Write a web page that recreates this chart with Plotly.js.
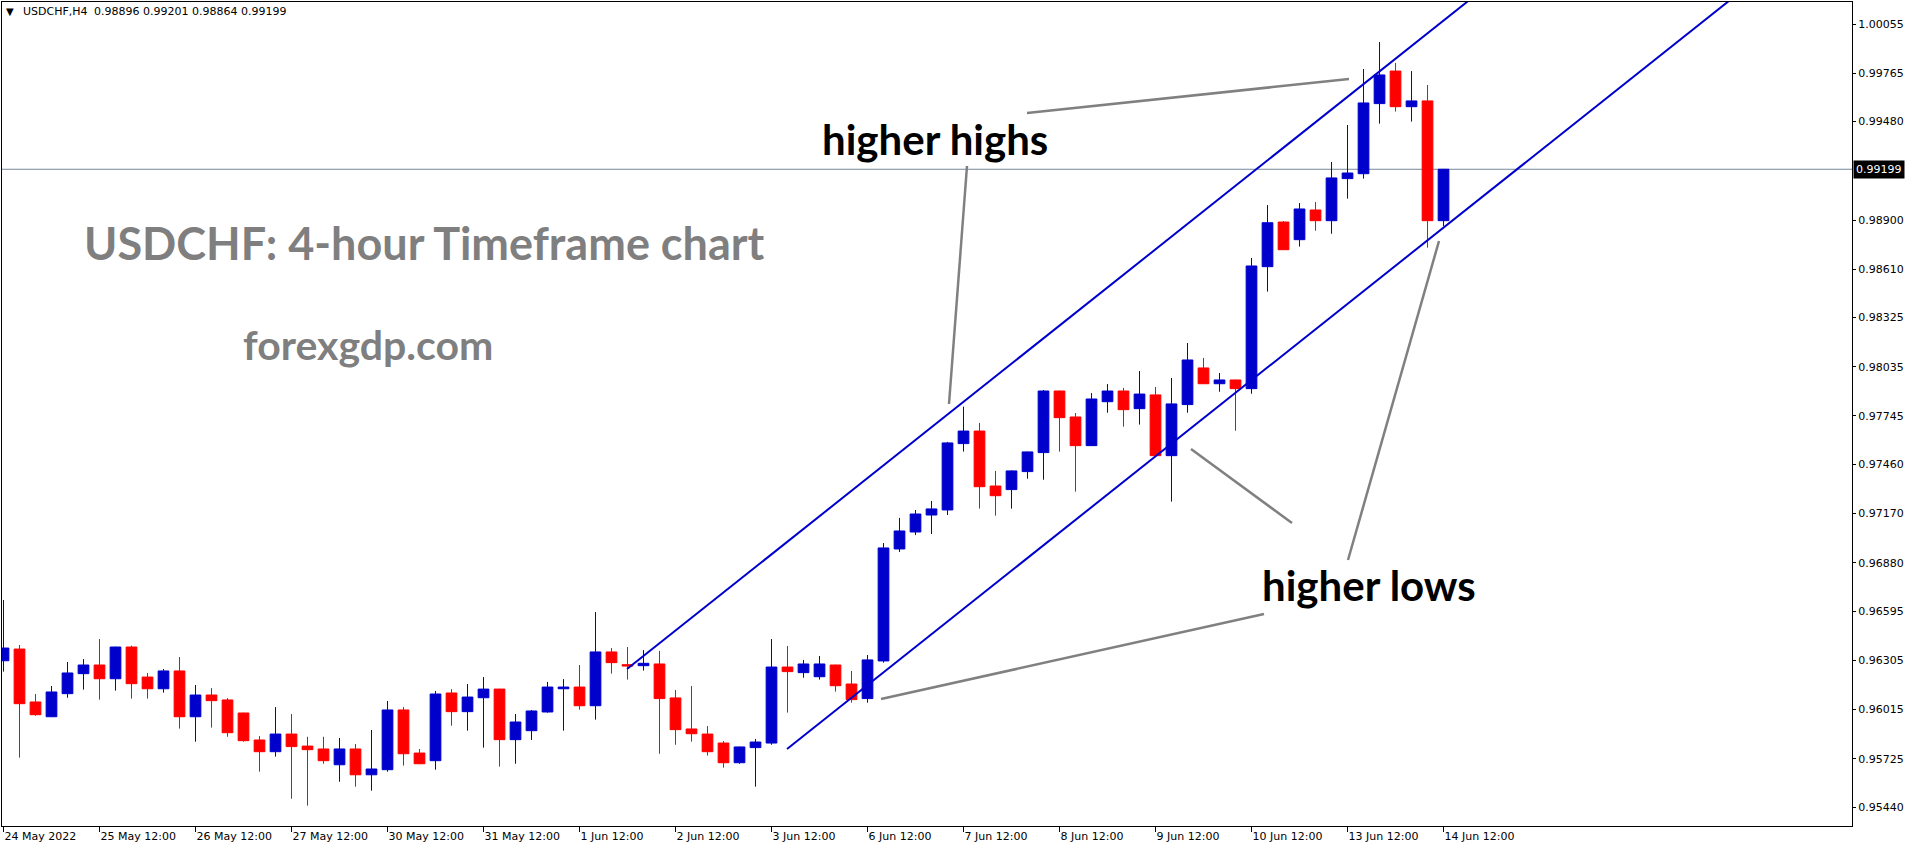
<!DOCTYPE html>
<html>
<head>
<meta charset="utf-8">
<script src="https://cdn.plot.ly/plotly-3.0.1.min.js"></script>
<style>
html,body{margin:0;padding:0;background:#fff;}
#chart{width:1916px;height:850px;}
</style>
</head>
<body>
<div id="chart"></div>
<script>
// ---- data ----
const barTimes = [
 "24 May 12:00","24 May 16:00","24 May 20:00",
 "25 May 00:00","25 May 04:00","25 May 08:00","25 May 12:00","25 May 16:00","25 May 20:00",
 "26 May 00:00","26 May 04:00","26 May 08:00","26 May 12:00","26 May 16:00","26 May 20:00",
 "27 May 00:00","27 May 04:00","27 May 08:00","27 May 12:00","27 May 16:00","27 May 20:00",
 "30 May 00:00","30 May 04:00","30 May 08:00","30 May 12:00","30 May 16:00","30 May 20:00",
 "31 May 00:00","31 May 04:00","31 May 08:00","31 May 12:00","31 May 16:00","31 May 20:00",
 "1 Jun 00:00","1 Jun 04:00","1 Jun 08:00","1 Jun 12:00","1 Jun 16:00","1 Jun 20:00",
 "2 Jun 00:00","2 Jun 04:00","2 Jun 08:00","2 Jun 12:00","2 Jun 16:00","2 Jun 20:00",
 "3 Jun 00:00","3 Jun 04:00","3 Jun 08:00","3 Jun 12:00","3 Jun 16:00","3 Jun 20:00",
 "6 Jun 00:00","6 Jun 04:00","6 Jun 08:00","6 Jun 12:00","6 Jun 16:00","6 Jun 20:00",
 "7 Jun 00:00","7 Jun 04:00","7 Jun 08:00","7 Jun 12:00","7 Jun 16:00","7 Jun 20:00",
 "8 Jun 00:00","8 Jun 04:00","8 Jun 08:00","8 Jun 12:00","8 Jun 16:00","8 Jun 20:00",
 "9 Jun 00:00","9 Jun 04:00","9 Jun 08:00","9 Jun 12:00","9 Jun 16:00","9 Jun 20:00",
 "10 Jun 00:00","10 Jun 04:00","10 Jun 08:00","10 Jun 12:00","10 Jun 16:00","10 Jun 20:00",
 "13 Jun 00:00","13 Jun 04:00","13 Jun 08:00","13 Jun 12:00","13 Jun 16:00","13 Jun 20:00",
 "14 Jun 00:00","14 Jun 04:00","14 Jun 08:00","14 Jun 12:00"
];

const openP = [
 0.96302,0.96371,0.96059,0.95972,0.96108,0.96226,0.96277,0.96196,0.96383,0.96206,
 0.96137,0.96242,0.95972,0.96100,0.96071,0.95994,0.95835,0.95766,0.95870,0.95799,
 0.95782,0.95689,0.95782,0.95630,0.95660,0.96012,0.95758,0.95713,0.96112,0.96002,
 0.96084,0.96135,0.95837,0.95890,0.96000,0.96137,0.96147,0.96037,0.96354,0.96279,
 0.96273,0.96283,0.96083,0.95900,0.95870,0.95817,0.95701,0.95790,0.95817,0.96265,
 0.96232,0.96208,0.96277,0.96165,0.96079,0.96301,0.96961,0.97061,0.97161,0.97191,
 0.97582,0.97656,0.97332,0.97311,0.97417,0.97529,0.97892,0.97739,0.97570,0.97829,
 0.97892,0.97788,0.97869,0.97511,0.97812,0.98028,0.97935,0.97957,0.97906,0.98625,
 0.98888,0.98784,0.98959,0.98896,0.99144,0.99173,0.99586,0.99778,0.99568,0.99602,
 0.98896
];
const highP = [
 0.96660,0.96395,0.96106,0.96153,0.96295,0.96312,0.96430,0.96385,0.96391,0.96230,
 0.96253,0.96324,0.96159,0.96141,0.96082,0.95996,0.95858,0.96029,0.95988,0.95854,
 0.95854,0.95847,0.95811,0.95894,0.96065,0.96029,0.95782,0.96124,0.96135,0.96165,
 0.96206,0.96137,0.95988,0.96012,0.96177,0.96194,0.96277,0.96589,0.96377,0.96383,
 0.96365,0.96360,0.96130,0.96153,0.95917,0.95829,0.95796,0.95841,0.96430,0.96389,
 0.96307,0.96330,0.96279,0.96242,0.96336,0.96996,0.97144,0.97191,0.97244,0.97592,
 0.97800,0.97704,0.97421,0.97424,0.97535,0.97898,0.97894,0.97762,0.97880,0.97933,
 0.97910,0.98010,0.97916,0.97969,0.98175,0.98087,0.97998,0.97959,0.98676,0.98988,
 0.98894,0.99000,0.99006,0.99242,0.99460,0.99790,0.99949,0.99826,0.99778,0.99696,
 0.99201
];
const lowP = [
 0.96238,0.95731,0.95978,0.95970,0.96084,0.96132,0.96073,0.96126,0.96079,0.96079,
 0.96114,0.95902,0.95825,0.95908,0.95854,0.95825,0.95648,0.95737,0.95489,0.95448,
 0.95695,0.95589,0.95560,0.95536,0.95648,0.95684,0.95693,0.95660,0.95919,0.95890,
 0.95790,0.95678,0.95695,0.95835,0.95996,0.95890,0.96014,0.95955,0.96226,0.96191,
 0.96244,0.95754,0.95807,0.95825,0.95743,0.95672,0.95695,0.95560,0.95807,0.95996,
 0.96202,0.96191,0.96120,0.96055,0.96055,0.96291,0.96943,0.97043,0.97049,0.97161,
 0.97535,0.97199,0.97157,0.97199,0.97375,0.97369,0.97535,0.97299,0.97568,0.97764,
 0.97682,0.97694,0.97509,0.97240,0.97764,0.97933,0.97888,0.97658,0.97876,0.98478,
 0.98723,0.98743,0.98837,0.98819,0.99026,0.99144,0.99468,0.99539,0.99480,0.98737,
 0.98864
];
const closeP = [
 0.96377,0.96049,0.95984,0.96118,0.96230,0.96277,0.96196,0.96383,0.96167,0.96137,
 0.96242,0.95972,0.96100,0.96067,0.95878,0.95831,0.95766,0.95870,0.95796,0.95778,
 0.95713,0.95782,0.95630,0.95664,0.96012,0.95754,0.95695,0.96106,0.96002,0.96088,
 0.96135,0.95837,0.95941,0.96006,0.96147,0.96147,0.96037,0.96354,0.96291,0.96271,
 0.96287,0.96079,0.95896,0.95872,0.95766,0.95701,0.95794,0.95823,0.96265,0.96238,
 0.96283,0.96283,0.96155,0.96073,0.96307,0.96967,0.97067,0.97167,0.97197,0.97586,
 0.97656,0.97328,0.97275,0.97421,0.97533,0.97892,0.97735,0.97570,0.97845,0.97892,
 0.97782,0.97874,0.97511,0.97816,0.98075,0.97935,0.97957,0.97906,0.98629,0.98884,
 0.98725,0.98965,0.98896,0.99148,0.99177,0.99590,0.99755,0.99568,0.99602,0.98896,
 0.99199
];

const xTickVals = ["24 May 12:00","25 May 12:00","26 May 12:00","27 May 12:00","30 May 12:00",
 "31 May 12:00","1 Jun 12:00","2 Jun 12:00","3 Jun 12:00","6 Jun 12:00","7 Jun 12:00",
 "8 Jun 12:00","9 Jun 12:00","10 Jun 12:00","13 Jun 12:00","14 Jun 12:00"];
const xTickText = ["24 May 2022","25 May 12:00","26 May 12:00","27 May 12:00","30 May 12:00",
 "31 May 12:00","1 Jun 12:00","2 Jun 12:00","3 Jun 12:00","6 Jun 12:00","7 Jun 12:00",
 "8 Jun 12:00","9 Jun 12:00","10 Jun 12:00","13 Jun 12:00","14 Jun 12:00"];

const yTickVals = [1.00055,0.99765,0.99480,0.98900,0.98610,0.98325,0.98035,0.97745,
 0.97460,0.97170,0.96880,0.96595,0.96305,0.96015,0.95725,0.95440];
const yTickText = ["1.00055","0.99765","0.99480","0.98900","0.98610","0.98325","0.98035","0.97745",
 "0.97460","0.97170","0.96880","0.96595","0.96305","0.96015","0.95725","0.95440"];

const symbol = "USDCHF,H4";
const lastBar = ["0.98896","0.99201","0.98864","0.99199"];
const lastPrice = 0.99199;

// channel trend lines: [barIndex, price] anchor points
const upperChannel = [[38.97, 0.96253], [95.0, 1.00450]];
const lowerChannel = [[48.97, 0.95782], [112.0, 1.00503]];

// ---- layout helpers (pixel -> paper) ----
const PL = 2, PR = 1852, PT = 2, PB = 826;
const px = v => (v - PL) / (PR - PL);
const py = v => (PB - v) / (PB - PT);

const BLUE = '#0000CC', RED = '#FF0000', GRAY = '#808080';

const trace = {
  type: 'candlestick',
  x: barTimes, open: openP, high: highP, low: lowP, close: closeP,
  increasing: {line: {color: BLUE, width: 1}, fillcolor: BLUE},
  decreasing: {line: {color: RED, width: 1}, fillcolor: RED},
  whiskerwidth: 0,
  hoverinfo: 'skip',
  showlegend: false
};

function pline(x0, y0, x1, y1) {
  return {type: 'line', xref: 'paper', yref: 'paper',
    x0: px(x0), y0: py(y0), x1: px(x1), y1: py(y1),
    line: {color: GRAY, width: 2.5}};
}

const shapes = [
  {type: 'line', xref: 'paper', yref: 'y', x0: 0, x1: 1, y0: lastPrice, y1: lastPrice,
   line: {color: '#778899', width: 1}, layer: 'below'},
  {type: 'line', xref: 'x', yref: 'y', x0: upperChannel[0][0], y0: upperChannel[0][1],
   x1: upperChannel[1][0], y1: upperChannel[1][1], line: {color: BLUE, width: 2}},
  {type: 'line', xref: 'x', yref: 'y', x0: lowerChannel[0][0], y0: lowerChannel[0][1],
   x1: lowerChannel[1][0], y1: lowerChannel[1][1], line: {color: BLUE, width: 2}},
  pline(1027, 113, 1349, 79),
  pline(967, 166, 949, 404),
  pline(1191, 449, 1292, 523),
  pline(1439, 241, 1348, 560),
  pline(1264, 614, 881, 699)
];

const bigFont = (c, s) => ({family: 'Lato, sans-serif', size: s || 42, color: c, weight: 700});
const smallFont = {family: 'DejaVu Sans, sans-serif', size: 11, color: '#000'};

const annotations = [
  {xref: 'paper', yref: 'paper', x: px(10), y: py(12), text: '\u25BC', showarrow: false,
   xanchor: 'center', yanchor: 'middle', font: {family: 'DejaVu Sans', size: 10, color: '#000'}},
  {xref: 'paper', yref: 'paper', x: px(21), y: py(12), text: symbol, showarrow: false,
   xanchor: 'left', yanchor: 'middle', font: smallFont},
  {xref: 'paper', yref: 'paper', x: px(92), y: py(12), text: lastBar.join(' '), showarrow: false,
   xanchor: 'left', yanchor: 'middle', font: smallFont},
  {xref: 'paper', yref: 'y', x: 1, y: lastPrice, xshift: 1, text: lastPrice.toFixed(5), showarrow: false,
   xanchor: 'left', yanchor: 'middle', bgcolor: '#000', borderpad: 2,
   font: {family: 'DejaVu Sans', size: 11, color: '#fff'}},
  {xref: 'paper', yref: 'paper', x: px(424), y: py(243), text: 'USDCHF: 4-hour Timeframe chart',
   showarrow: false, xanchor: 'center', yanchor: 'middle', font: bigFont('#7F7F7F', 45)},
  {xref: 'paper', yref: 'paper', x: px(368), y: py(344), text: 'forexgdp.com',
   showarrow: false, xanchor: 'center', yanchor: 'middle', font: bigFont('#7F7F7F', 41)},
  {xref: 'paper', yref: 'paper', x: px(935), y: py(139), text: 'higher highs',
   showarrow: false, xanchor: 'center', yanchor: 'middle', font: bigFont('#000')},
  {xref: 'paper', yref: 'paper', x: px(1369), y: py(585), text: 'higher lows',
   showarrow: false, xanchor: 'center', yanchor: 'middle', font: bigFont('#000')}
];

const layout = {
  width: 1916, height: 850,
  margin: {l: PL, r: 1916 - PR, t: PT, b: 850 - PB, pad: 0},
  paper_bgcolor: '#fff', plot_bgcolor: '#fff',
  showlegend: false,
  boxgap: 0.33, boxgroupgap: 0,
  xaxis: {
    type: 'category', range: [-0.094, 115.53], autorange: false,
    rangeslider: {visible: false},
    showgrid: false, zeroline: false,
    showline: true, linecolor: '#000', linewidth: 1, mirror: true,
    ticks: 'outside', ticklen: 5, tickcolor: '#000', tickwidth: 1,
    tickmode: 'array', tickvals: xTickVals, ticktext: xTickText,
    ticklabelposition: 'outside right',
    tickfont: {family: 'DejaVu Sans, sans-serif', size: 11, color: '#000'},
    automargin: false, fixedrange: true
  },
  yaxis: {
    side: 'right', range: [0.95328, 1.00185], autorange: false,
    showgrid: false, zeroline: false,
    showline: true, linecolor: '#000', linewidth: 1, mirror: true,
    ticks: 'outside', ticklen: 3, tickcolor: '#000', tickwidth: 1,
    tickmode: 'array', tickvals: yTickVals, ticktext: yTickText,
    tickfont: {family: 'DejaVu Sans, sans-serif', size: 11, color: '#000'},
    automargin: false, fixedrange: true
  },
  shapes: shapes,
  annotations: annotations
};

Plotly.newPlot('chart', [trace], layout, {staticPlot: true, displayModeBar: false});
</script>
</body>
</html>
